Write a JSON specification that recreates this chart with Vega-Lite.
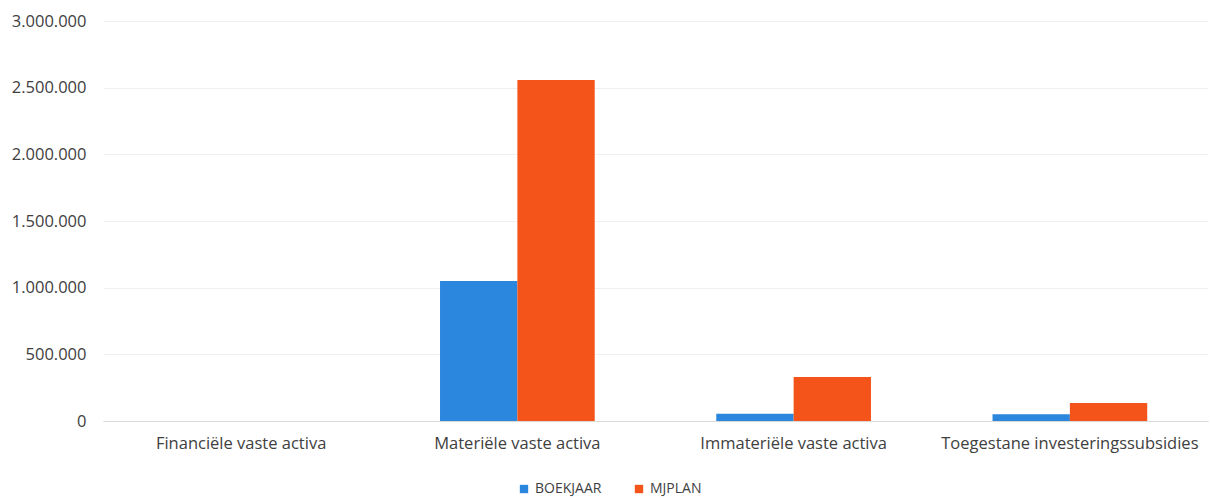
{
  "$schema": "https://vega.github.io/schema/vega-lite/v6.json",
  "autosize": "none",
  "width": 1105,
  "height": 400,
  "padding": {"left": 103, "top": 21, "right": 2, "bottom": 77},
  "background": "white",
  "config": {
    "locale": {"number": {"decimal": ",", "thousands": ".", "grouping": [3], "currency": ["€", ""]}},
    "view": {"stroke": null},
    "font": "Open Sans"
  },
  "data": {
    "values": [
      {"categorie": "Financiële vaste activa", "reeks": "BOEKJAAR", "bedrag": 0},
      {"categorie": "Financiële vaste activa", "reeks": "MJPLAN", "bedrag": 0},
      {"categorie": "Materiële vaste activa", "reeks": "BOEKJAAR", "bedrag": 1050000},
      {"categorie": "Materiële vaste activa", "reeks": "MJPLAN", "bedrag": 2557000},
      {"categorie": "Immateriële vaste activa", "reeks": "BOEKJAAR", "bedrag": 55000},
      {"categorie": "Immateriële vaste activa", "reeks": "MJPLAN", "bedrag": 330000},
      {"categorie": "Toegestane investeringssubsidies", "reeks": "BOEKJAAR", "bedrag": 50000},
      {"categorie": "Toegestane investeringssubsidies", "reeks": "MJPLAN", "bedrag": 135000}
    ]
  },
  "mark": {"type": "bar"},
  "encoding": {
    "x": {
      "field": "categorie",
      "type": "nominal",
      "sort": null,
      "scale": {"paddingInner": 0.44, "paddingOuter": 0.22},
      "axis": {
        "title": null,
        "labelAngle": 0,
        "ticks": false,
        "domainColor": "#D9D9D9",
        "labelColor": "#404040",
        "labelFontSize": 16.5,
        "labelPadding": 14,
        "labelLimit": 0,
        "labelFont": "Open Sans"
      }
    },
    "xOffset": {"field": "reeks", "type": "nominal", "scale": {"paddingInner": 0, "paddingOuter": 0}},
    "y": {
      "field": "bedrag",
      "type": "quantitative",
      "scale": {"domain": [0, 3000000]},
      "axis": {
        "title": null,
        "values": [0, 500000, 1000000, 1500000, 2000000, 2500000, 3000000],
        "format": ",d",
        "ticks": false,
        "domain": false,
        "gridColor": "#EFEFEF",
        "labelColor": "#404040",
        "labelFontSize": 16.5,
        "labelPadding": 17,
        "labelFont": "Open Sans"
      }
    },
    "color": {
      "field": "reeks",
      "type": "nominal",
      "scale": {"domain": ["BOEKJAAR", "MJPLAN"], "range": ["#2B86DD", "#F4541A"]},
      "legend": {
        "title": null,
        "orient": "none",
        "direction": "horizontal",
        "legendX": 414,
        "legendY": 461,
        "symbolType": "square",
        "symbolSize": 70,
        "labelFontSize": 14,
        "labelColor": "#404040",
        "labelFont": "Open Sans",
        "columnPadding": 30
      }
    }
  }
}
